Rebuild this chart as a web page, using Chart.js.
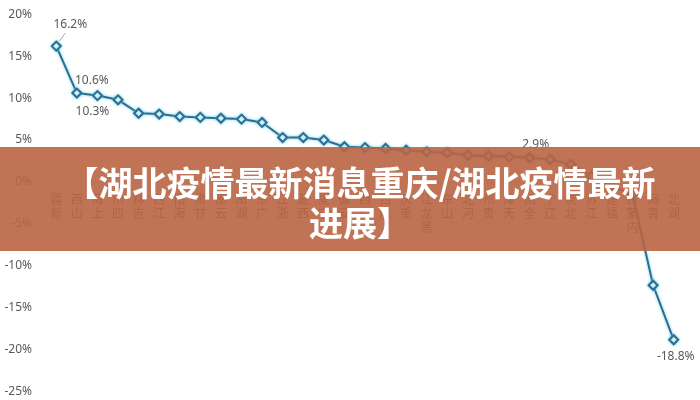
<!DOCTYPE html>
<html>
<head>
<meta charset="utf-8">
<script src="https://cdn.jsdelivr.net/npm/chart.js@4.4.0/dist/chart.umd.min.js"></script>
<style>
    html, body { margin: 0; padding: 0; background: #ffffff; }
    #wrap { position: relative; width: 700px; height: 400px; overflow: hidden; }
    #chartBox { position: absolute; left: 0; top: -7px; width: 700px; height: 420px; }
    #banner {
        position: absolute; left: 0; top: 147px; width: 700px; height: 104px;
        background: rgba(186, 100, 68, 0.9);
    }
    #banner span {
        position: absolute; left: 58px; top: 15px; width: 604px; text-align: center;
        color: #ffffff; font-family: "Noto Sans CJK SC", sans-serif; font-weight: 700;
        font-size: 34px; line-height: 40px;
    }
</style>
</head>
<body>
<div id="wrap">
    <div id="chartBox"><canvas id="chart"></canvas></div>
    <div id="banner"><span>【湖北疫情最新消息重庆/湖北疫情最新进展】</span></div>
</div>
<script>
// 类别(省份)
const categories = ['新疆', '山西', '上海', '四川', '吉林', '江西', '海南', '甘肃', '云南', '湖南',
    '广东', '浙江', '西藏', '宁夏', '安徽', '广西', '陕西', '重庆', '黑龙江', '山东',
    '河北', '贵州', '天津', '全国', '辽宁', '北京', '江苏', '福建', '内蒙古', '青海', '湖北'];

// 增速 (%)
const growth = [16.2, 10.6, 10.3, 9.8, 8.2, 8.1, 7.8, 7.7, 7.6, 7.5,
    7.1, 5.3, 5.3, 5.0, 4.2, 4.1, 4.0, 3.8, 3.6, 3.5,
    3.2, 3.1, 3.0, 2.9, 2.7, 2.1, 0.7, -0.5, -1.5, -12.3, -18.8];

// 刻度
const yTicks = [20, 15, 10, 5, 0, -5, -10, -15, -20, -25];

// 显示数据标签的点
const labelledPoints = ['新疆', '山西', '上海', '全国', '湖北'];

// 标签相对数据点的偏移
const labelOffsets = {
    '新疆': [14, -22], '山西': [15, -12], '上海': [-5, 16], '全国': [6, -13], '湖北': [2, 17]
};

const lineColor = '#2f6d8c';
const textColor = '#595959';

const pointLabels = {
    id: 'pointLabels',
    afterDatasetsDraw(chart) {
        const ctx = chart.ctx;
        const meta = chart.getDatasetMeta(0);
        ctx.save();
        ctx.font = '12px "Noto Sans", sans-serif';
        ctx.fillStyle = textColor;
        ctx.textAlign = 'center';
        ctx.textBaseline = 'middle';
        labelledPoints.forEach(name => {
            const i = categories.indexOf(name);
            const pt = meta.data[i];
            const off = labelOffsets[name];
            ctx.fillText(growth[i].toFixed(1) + '%', pt.x + off[0], pt.y + off[1]);
            if (name === '新疆') {
                ctx.strokeStyle = '#a6a6a6';
                ctx.lineWidth = 1;
                ctx.beginPath();
                ctx.moveTo(pt.x + 3, pt.y - 5);
                ctx.lineTo(pt.x + 9, pt.y - 13);
                ctx.stroke();
            }
        });
        ctx.restore();
    }
};

const glow = {
    id: 'glow',
    beforeDatasetDraw(chart) {
        chart.ctx.save();
        chart.ctx.shadowColor = 'rgba(90, 200, 240, 0.9)';
        chart.ctx.shadowBlur = 3;
    },
    afterDatasetDraw(chart) {
        chart.ctx.restore();
    }
};

new Chart(document.getElementById('chart'), {
    type: 'line',
    data: {
        labels: categories.map(c => c.split('').reverse()),
        datasets: [{
            data: growth,
            borderColor: lineColor,
            borderWidth: 2,
            tension: 0,
            pointStyle: 'rectRot',
            pointRadius: 4.5,
            pointBackgroundColor: '#ffffff',
            pointBorderColor: lineColor,
            pointBorderWidth: 2
        }]
    },
    options: {
        responsive: true,
        maintainAspectRatio: false,
        animation: false,
        layout: { padding: { left: 0, right: 16, top: 6, bottom: 0 } },
        plugins: {
            legend: { display: false },
            tooltip: { enabled: false }
        },
        scales: {
            x: {
                position: { y: 0 },
                offset: true,
                grid: { display: false, drawTicks: false, offset: true },
                border: { display: true, color: '#d9d9d9', width: 1 },
                ticks: {
                    color: textColor,
                    font: { family: '"Noto Sans CJK SC", sans-serif', size: 12, lineHeight: 1.17 },
                    padding: 10,
                    maxRotation: 0,
                    autoSkip: false
                }
            },
            y: {
                min: -25,
                max: 20,
                afterFit: s => { s.width = 46; },
                afterBuildTicks: s => { s.ticks = yTicks.map(v => ({ value: v })); },
                grid: { display: false, drawTicks: false },
                border: { display: false },
                ticks: {
                    color: textColor,
                    font: { family: '"Noto Sans", sans-serif', size: 12 },
                    padding: 14,
                    callback: v => v + '%'
                }
            }
        }
    },
    plugins: [glow, pointLabels]
});
</script>
</body>
</html>
